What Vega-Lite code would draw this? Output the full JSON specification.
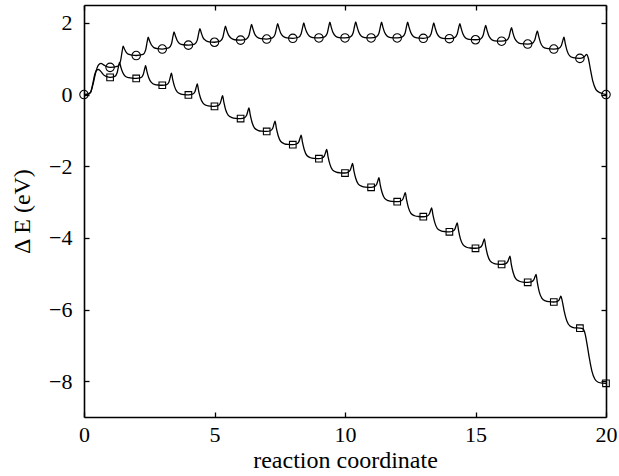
{
"$schema": "https://vega.github.io/schema/vega-lite/v6.json",
"width": 522, "height": 412,
"autosize": "none",
"padding": {"left": 84, "top": 5, "right": 13, "bottom": 59},
"background": "white",
"config": {
 "view": {"stroke": null},
 "axis": {"grid": false, "domainColor": "black", "domainWidth": 1.6, "tickColor": "black", "tickWidth": 1.3, "tickSize": -5,
  "labelFont": "Liberation Serif", "labelFontSize": 22, "labelColor": "black", "labelFlush": false, "labelOverlap": false,
  "titleFont": "Liberation Serif", "titleFontSize": 24, "titleFontWeight": "normal", "titleColor": "black"}
},
"datasets": {
 "curves": [
{"s":"a","x":0,"y":0},{"s":"a","x":0.15,"y":0.01},{"s":"a","x":0.25,"y":0.06},{"s":"a","x":0.35,"y":0.3},{"s":"a","x":0.45,"y":0.62},{"s":"a","x":0.55,"y":0.82},{"s":"a","x":0.65,"y":0.87},{"s":"a","x":0.75,"y":0.83},{"s":"a","x":0.87,"y":0.78},
{"s":"a","x":1,"y":0.76},{"s":"a","x":1.3,"y":0.795},{"s":"a","x":1.4,"y":0.94},{"s":"a","x":1.46,"y":1.2},{"s":"a","x":1.5,"y":1.35},{"s":"a","x":1.55,"y":1.27},{"s":"a","x":1.62,"y":1.18},{"s":"a","x":1.72,"y":1.12},{"s":"a","x":1.85,"y":1.1},
{"s":"a","x":2,"y":1.09},{"s":"a","x":2.26,"y":1.12},{"s":"a","x":2.36,"y":1.24},{"s":"a","x":2.42,"y":1.47},{"s":"a","x":2.46,"y":1.6},{"s":"a","x":2.51,"y":1.5},{"s":"a","x":2.58,"y":1.39},{"s":"a","x":2.68,"y":1.31},{"s":"a","x":2.81,"y":1.28},
{"s":"a","x":3,"y":1.27},{"s":"a","x":3.25,"y":1.3},{"s":"a","x":3.35,"y":1.41},{"s":"a","x":3.41,"y":1.63},{"s":"a","x":3.45,"y":1.75},{"s":"a","x":3.5,"y":1.64},{"s":"a","x":3.57,"y":1.51},{"s":"a","x":3.67,"y":1.42},{"s":"a","x":3.8,"y":1.39},
{"s":"a","x":4,"y":1.38},{"s":"a","x":4.24,"y":1.41},{"s":"a","x":4.34,"y":1.52},{"s":"a","x":4.4,"y":1.73},{"s":"a","x":4.44,"y":1.84},{"s":"a","x":4.49,"y":1.73},{"s":"a","x":4.56,"y":1.59},{"s":"a","x":4.66,"y":1.51},{"s":"a","x":4.79,"y":1.47},
{"s":"a","x":5,"y":1.46},{"s":"a","x":5.22,"y":1.49},{"s":"a","x":5.32,"y":1.6},{"s":"a","x":5.38,"y":1.8},{"s":"a","x":5.42,"y":1.91},{"s":"a","x":5.47,"y":1.79},{"s":"a","x":5.54,"y":1.66},{"s":"a","x":5.64,"y":1.57},{"s":"a","x":5.77,"y":1.53},
{"s":"a","x":6,"y":1.52},{"s":"a","x":6.22,"y":1.55},{"s":"a","x":6.32,"y":1.65},{"s":"a","x":6.38,"y":1.85},{"s":"a","x":6.42,"y":1.96},{"s":"a","x":6.47,"y":1.84},{"s":"a","x":6.54,"y":1.69},{"s":"a","x":6.64,"y":1.6},{"s":"a","x":6.77,"y":1.56},
{"s":"a","x":7,"y":1.55},{"s":"a","x":7.22,"y":1.58},{"s":"a","x":7.32,"y":1.68},{"s":"a","x":7.38,"y":1.87},{"s":"a","x":7.42,"y":1.98},{"s":"a","x":7.47,"y":1.86},{"s":"a","x":7.54,"y":1.71},{"s":"a","x":7.64,"y":1.62},{"s":"a","x":7.77,"y":1.58},
{"s":"a","x":8,"y":1.57},{"s":"a","x":8.22,"y":1.6},{"s":"a","x":8.32,"y":1.7},{"s":"a","x":8.38,"y":1.89},{"s":"a","x":8.42,"y":2.0},{"s":"a","x":8.47,"y":1.87},{"s":"a","x":8.54,"y":1.73},{"s":"a","x":8.64,"y":1.63},{"s":"a","x":8.77,"y":1.59},
{"s":"a","x":9,"y":1.58},{"s":"a","x":9.22,"y":1.61},{"s":"a","x":9.32,"y":1.71},{"s":"a","x":9.38,"y":1.91},{"s":"a","x":9.42,"y":2.02},{"s":"a","x":9.47,"y":1.89},{"s":"a","x":9.54,"y":1.73},{"s":"a","x":9.64,"y":1.63},{"s":"a","x":9.77,"y":1.59},
{"s":"a","x":10,"y":1.58},{"s":"a","x":10.21,"y":1.61},{"s":"a","x":10.31,"y":1.72},{"s":"a","x":10.37,"y":1.92},{"s":"a","x":10.41,"y":2.03},{"s":"a","x":10.46,"y":1.9},{"s":"a","x":10.53,"y":1.74},{"s":"a","x":10.63,"y":1.63},{"s":"a","x":10.76,"y":1.59},
{"s":"a","x":11,"y":1.58},{"s":"a","x":11.2,"y":1.61},{"s":"a","x":11.3,"y":1.71},{"s":"a","x":11.36,"y":1.91},{"s":"a","x":11.4,"y":2.02},{"s":"a","x":11.45,"y":1.89},{"s":"a","x":11.52,"y":1.73},{"s":"a","x":11.62,"y":1.63},{"s":"a","x":11.75,"y":1.59},
{"s":"a","x":12,"y":1.58},{"s":"a","x":12.2,"y":1.61},{"s":"a","x":12.3,"y":1.71},{"s":"a","x":12.36,"y":1.91},{"s":"a","x":12.4,"y":2.02},{"s":"a","x":12.45,"y":1.89},{"s":"a","x":12.52,"y":1.73},{"s":"a","x":12.62,"y":1.62},{"s":"a","x":12.75,"y":1.58},
{"s":"a","x":13,"y":1.57},{"s":"a","x":13.2,"y":1.6},{"s":"a","x":13.3,"y":1.7},{"s":"a","x":13.36,"y":1.89},{"s":"a","x":13.4,"y":2.0},{"s":"a","x":13.45,"y":1.87},{"s":"a","x":13.52,"y":1.71},{"s":"a","x":13.62,"y":1.61},{"s":"a","x":13.75,"y":1.57},
{"s":"a","x":14,"y":1.56},{"s":"a","x":14.2,"y":1.59},{"s":"a","x":14.3,"y":1.69},{"s":"a","x":14.36,"y":1.88},{"s":"a","x":14.4,"y":1.98},{"s":"a","x":14.45,"y":1.85},{"s":"a","x":14.52,"y":1.69},{"s":"a","x":14.62,"y":1.58},{"s":"a","x":14.75,"y":1.54},
{"s":"a","x":15,"y":1.53},{"s":"a","x":15.19,"y":1.55},{"s":"a","x":15.29,"y":1.65},{"s":"a","x":15.35,"y":1.83},{"s":"a","x":15.39,"y":1.93},{"s":"a","x":15.44,"y":1.8},{"s":"a","x":15.51,"y":1.64},{"s":"a","x":15.61,"y":1.54},{"s":"a","x":15.74,"y":1.5},
{"s":"a","x":16,"y":1.49},{"s":"a","x":16.18,"y":1.51},{"s":"a","x":16.28,"y":1.6},{"s":"a","x":16.34,"y":1.78},{"s":"a","x":16.38,"y":1.87},{"s":"a","x":16.43,"y":1.73},{"s":"a","x":16.5,"y":1.57},{"s":"a","x":16.6,"y":1.47},{"s":"a","x":16.73,"y":1.42},
{"s":"a","x":17,"y":1.41},{"s":"a","x":17.17,"y":1.43},{"s":"a","x":17.27,"y":1.52},{"s":"a","x":17.33,"y":1.69},{"s":"a","x":17.37,"y":1.78},{"s":"a","x":17.42,"y":1.63},{"s":"a","x":17.49,"y":1.45},{"s":"a","x":17.59,"y":1.33},{"s":"a","x":17.72,"y":1.29},
{"s":"a","x":18,"y":1.27},{"s":"a","x":18.19,"y":1.29},{"s":"a","x":18.29,"y":1.37},{"s":"a","x":18.35,"y":1.52},{"s":"a","x":18.39,"y":1.6},{"s":"a","x":18.44,"y":1.42},{"s":"a","x":18.51,"y":1.22},{"s":"a","x":18.61,"y":1.08},{"s":"a","x":18.74,"y":1.03},
{"s":"a","x":19,"y":1.01},{"s":"a","x":19.12,"y":1.03},{"s":"a","x":19.2,"y":1.08},{"s":"a","x":19.26,"y":1.12},{"s":"a","x":19.32,"y":1.02},{"s":"a","x":19.4,"y":0.72},{"s":"a","x":19.5,"y":0.36},{"s":"a","x":19.6,"y":0.16},{"s":"a","x":19.72,"y":0.07},{"s":"a","x":19.85,"y":0.03},{"s":"a","x":20,"y":0},
{"s":"b","x":0,"y":0},{"s":"b","x":0.15,"y":0.01},{"s":"b","x":0.25,"y":0.06},{"s":"b","x":0.33,"y":0.28},{"s":"b","x":0.42,"y":0.58},{"s":"b","x":0.5,"y":0.69},{"s":"b","x":0.56,"y":0.7},{"s":"b","x":0.65,"y":0.64},{"s":"b","x":0.75,"y":0.55},{"s":"b","x":0.87,"y":0.5},
{"s":"b","x":1,"y":0.48},{"s":"b","x":1.18,"y":0.51},{"s":"b","x":1.27,"y":0.61},{"s":"b","x":1.325,"y":0.8},{"s":"b","x":1.36,"y":0.9},{"s":"b","x":1.41,"y":0.77},{"s":"b","x":1.48,"y":0.62},{"s":"b","x":1.58,"y":0.51},{"s":"b","x":1.72,"y":0.47},{"s":"b","x":1.86,"y":0.455},
{"s":"b","x":2,"y":0.45},{"s":"b","x":2.18,"y":0.47},{"s":"b","x":2.27,"y":0.56},{"s":"b","x":2.325,"y":0.72},{"s":"b","x":2.36,"y":0.81},{"s":"b","x":2.41,"y":0.645},{"s":"b","x":2.48,"y":0.47},{"s":"b","x":2.58,"y":0.34},{"s":"b","x":2.72,"y":0.28},{"s":"b","x":2.86,"y":0.265},
{"s":"b","x":3,"y":0.26},{"s":"b","x":3.17,"y":0.28},{"s":"b","x":3.26,"y":0.36},{"s":"b","x":3.315,"y":0.515},{"s":"b","x":3.35,"y":0.6},{"s":"b","x":3.4,"y":0.417},{"s":"b","x":3.47,"y":0.222},{"s":"b","x":3.57,"y":0.075},{"s":"b","x":3.71,"y":0.014},{"s":"b","x":3.85,"y":-0.004},
{"s":"b","x":4,"y":-0.01},{"s":"b","x":4.16,"y":0.01},{"s":"b","x":4.25,"y":0.08},{"s":"b","x":4.305,"y":0.22},{"s":"b","x":4.34,"y":0.3},{"s":"b","x":4.39,"y":0.11},{"s":"b","x":4.46,"y":-0.09},{"s":"b","x":4.56,"y":-0.24},{"s":"b","x":4.7,"y":-0.305},{"s":"b","x":4.84,"y":-0.324},
{"s":"b","x":5,"y":-0.33},{"s":"b","x":5.13,"y":-0.31},{"s":"b","x":5.22,"y":-0.24},{"s":"b","x":5.275,"y":-0.105},{"s":"b","x":5.31,"y":-0.03},{"s":"b","x":5.36,"y":-0.22},{"s":"b","x":5.43,"y":-0.43},{"s":"b","x":5.53,"y":-0.58},{"s":"b","x":5.67,"y":-0.644},{"s":"b","x":5.81,"y":-0.664},
{"s":"b","x":6,"y":-0.67},{"s":"b","x":6.14,"y":-0.65},{"s":"b","x":6.23,"y":-0.58},{"s":"b","x":6.285,"y":-0.445},{"s":"b","x":6.32,"y":-0.37},{"s":"b","x":6.37,"y":-0.568},{"s":"b","x":6.44,"y":-0.78},{"s":"b","x":6.54,"y":-0.94},{"s":"b","x":6.68,"y":-1.004},{"s":"b","x":6.82,"y":-1.023},
{"s":"b","x":7,"y":-1.03},{"s":"b","x":7.14,"y":-1.01},{"s":"b","x":7.23,"y":-0.94},{"s":"b","x":7.285,"y":-0.81},{"s":"b","x":7.32,"y":-0.74},{"s":"b","x":7.37,"y":-0.94},{"s":"b","x":7.44,"y":-1.15},{"s":"b","x":7.54,"y":-1.31},{"s":"b","x":7.68,"y":-1.374},{"s":"b","x":7.82,"y":-1.393},
{"s":"b","x":8,"y":-1.4},{"s":"b","x":8.14,"y":-1.38},{"s":"b","x":8.23,"y":-1.32},{"s":"b","x":8.285,"y":-1.2},{"s":"b","x":8.32,"y":-1.13},{"s":"b","x":8.37,"y":-1.33},{"s":"b","x":8.44,"y":-1.54},{"s":"b","x":8.54,"y":-1.7},{"s":"b","x":8.68,"y":-1.764},{"s":"b","x":8.82,"y":-1.783},
{"s":"b","x":9,"y":-1.79},{"s":"b","x":9.12,"y":-1.77},{"s":"b","x":9.21,"y":-1.71},{"s":"b","x":9.265,"y":-1.595},{"s":"b","x":9.3,"y":-1.53},{"s":"b","x":9.35,"y":-1.73},{"s":"b","x":9.42,"y":-1.94},{"s":"b","x":9.52,"y":-2.1},{"s":"b","x":9.66,"y":-2.164},{"s":"b","x":9.8,"y":-2.183},
{"s":"b","x":10,"y":-2.19},{"s":"b","x":10.11,"y":-2.17},{"s":"b","x":10.2,"y":-2.11},{"s":"b","x":10.255,"y":-1.99},{"s":"b","x":10.29,"y":-1.92},{"s":"b","x":10.34,"y":-2.12},{"s":"b","x":10.41,"y":-2.335},{"s":"b","x":10.51,"y":-2.5},{"s":"b","x":10.65,"y":-2.563},{"s":"b","x":10.79,"y":-2.583},
{"s":"b","x":11,"y":-2.59},{"s":"b","x":11.12,"y":-2.57},{"s":"b","x":11.21,"y":-2.51},{"s":"b","x":11.265,"y":-2.39},{"s":"b","x":11.3,"y":-2.32},{"s":"b","x":11.35,"y":-2.52},{"s":"b","x":11.42,"y":-2.735},{"s":"b","x":11.52,"y":-2.9},{"s":"b","x":11.66,"y":-2.963},{"s":"b","x":11.8,"y":-2.983},
{"s":"b","x":12,"y":-2.99},{"s":"b","x":12.13,"y":-2.975},{"s":"b","x":12.22,"y":-2.915},{"s":"b","x":12.275,"y":-2.8},{"s":"b","x":12.31,"y":-2.74},{"s":"b","x":12.36,"y":-2.94},{"s":"b","x":12.43,"y":-3.155},{"s":"b","x":12.53,"y":-3.32},{"s":"b","x":12.67,"y":-3.383},{"s":"b","x":12.81,"y":-3.403},
{"s":"b","x":13,"y":-3.41},{"s":"b","x":13.14,"y":-3.395},{"s":"b","x":13.23,"y":-3.335},{"s":"b","x":13.285,"y":-3.22},{"s":"b","x":13.32,"y":-3.16},{"s":"b","x":13.37,"y":-3.36},{"s":"b","x":13.44,"y":-3.575},{"s":"b","x":13.54,"y":-3.74},{"s":"b","x":13.68,"y":-3.803},{"s":"b","x":13.82,"y":-3.823},
{"s":"b","x":14,"y":-3.83},{"s":"b","x":14.12,"y":-3.815},{"s":"b","x":14.21,"y":-3.755},{"s":"b","x":14.265,"y":-3.64},{"s":"b","x":14.3,"y":-3.58},{"s":"b","x":14.35,"y":-3.79},{"s":"b","x":14.42,"y":-4.02},{"s":"b","x":14.52,"y":-4.19},{"s":"b","x":14.66,"y":-4.262},{"s":"b","x":14.8,"y":-4.283},
{"s":"b","x":15,"y":-4.29},{"s":"b","x":15.16,"y":-4.275},{"s":"b","x":15.25,"y":-4.21},{"s":"b","x":15.305,"y":-4.095},{"s":"b","x":15.34,"y":-4.03},{"s":"b","x":15.39,"y":-4.24},{"s":"b","x":15.46,"y":-4.47},{"s":"b","x":15.56,"y":-4.64},{"s":"b","x":15.7,"y":-4.712},{"s":"b","x":15.84,"y":-4.733},
{"s":"b","x":16,"y":-4.74},{"s":"b","x":16.14,"y":-4.726},{"s":"b","x":16.23,"y":-4.67},{"s":"b","x":16.285,"y":-4.57},{"s":"b","x":16.32,"y":-4.51},{"s":"b","x":16.37,"y":-4.73},{"s":"b","x":16.44,"y":-4.96},{"s":"b","x":16.54,"y":-5.14},{"s":"b","x":16.68,"y":-5.21},{"s":"b","x":16.82,"y":-5.233},
{"s":"b","x":17,"y":-5.24},{"s":"b","x":17.14,"y":-5.227},{"s":"b","x":17.23,"y":-5.174},{"s":"b","x":17.285,"y":-5.075},{"s":"b","x":17.32,"y":-5.02},{"s":"b","x":17.37,"y":-5.25},{"s":"b","x":17.44,"y":-5.5},{"s":"b","x":17.54,"y":-5.68},{"s":"b","x":17.68,"y":-5.76},{"s":"b","x":17.82,"y":-5.782},
{"s":"b","x":18,"y":-5.79},{"s":"b","x":18.12,"y":-5.78},{"s":"b","x":18.2,"y":-5.74},{"s":"b","x":18.24,"y":-5.67},{"s":"b","x":18.27,"y":-5.63},{"s":"b","x":18.32,"y":-5.75},{"s":"b","x":18.4,"y":-6.05},{"s":"b","x":18.5,"y":-6.32},{"s":"b","x":18.62,"y":-6.46},{"s":"b","x":18.78,"y":-6.51},
{"s":"b","x":19,"y":-6.52},{"s":"b","x":19.12,"y":-6.54},{"s":"b","x":19.2,"y":-6.68},{"s":"b","x":19.27,"y":-6.95},{"s":"b","x":19.36,"y":-7.35},{"s":"b","x":19.46,"y":-7.72},{"s":"b","x":19.57,"y":-7.94},{"s":"b","x":19.7,"y":-8.03},{"s":"b","x":19.85,"y":-8.055},{"s":"b","x":20,"y":-8.06}
 ],
 "marks": [
{"s":"a","x":0,"y":0},{"s":"a","x":1,"y":0.76},{"s":"a","x":2,"y":1.09},{"s":"a","x":3,"y":1.27},{"s":"a","x":4,"y":1.38},{"s":"a","x":5,"y":1.46},{"s":"a","x":6,"y":1.52},{"s":"a","x":7,"y":1.55},{"s":"a","x":8,"y":1.57},{"s":"a","x":9,"y":1.58},{"s":"a","x":10,"y":1.58},{"s":"a","x":11,"y":1.58},{"s":"a","x":12,"y":1.58},{"s":"a","x":13,"y":1.57},{"s":"a","x":14,"y":1.56},{"s":"a","x":15,"y":1.53},{"s":"a","x":16,"y":1.49},{"s":"a","x":17,"y":1.41},{"s":"a","x":18,"y":1.27},{"s":"a","x":19,"y":1.01},{"s":"a","x":20,"y":0},
{"s":"b","x":1,"y":0.48},{"s":"b","x":2,"y":0.45},{"s":"b","x":3,"y":0.26},{"s":"b","x":4,"y":-0.01},{"s":"b","x":5,"y":-0.33},{"s":"b","x":6,"y":-0.67},{"s":"b","x":7,"y":-1.03},{"s":"b","x":8,"y":-1.4},{"s":"b","x":9,"y":-1.79},{"s":"b","x":10,"y":-2.19},{"s":"b","x":11,"y":-2.59},{"s":"b","x":12,"y":-2.99},{"s":"b","x":13,"y":-3.41},{"s":"b","x":14,"y":-3.83},{"s":"b","x":15,"y":-4.29},{"s":"b","x":16,"y":-4.74},{"s":"b","x":17,"y":-5.24},{"s":"b","x":18,"y":-5.79},{"s":"b","x":19,"y":-6.52},{"s":"b","x":20,"y":-8.06}
 ]
},
"layer": [
 {
  "data": {"name": "curves"},
  "mark": {"type": "line", "interpolate": "monotone", "color": "black", "strokeWidth": 1.3},
  "encoding": {
   "x": {"field": "x", "type": "quantitative", "scale": {"domain": [0, 20], "nice": false, "zero": false},
         "axis": {"orient": "bottom", "values": [0, 5, 10, 15, 20], "title": "reaction coordinate", "labelPadding": 12, "titlePadding": 3}},
   "y": {"field": "y", "type": "quantitative", "scale": {"domain": [-9, 2.5], "nice": false, "zero": false},
         "axis": {"orient": "left", "values": [-8, -6, -4, -2, 0, 2], "title": "Δ E (eV)", "labelPadding": 17, "titlePadding": 14}},
   "detail": {"field": "s"}
  }
 },
 {
  "data": {"name": "marks"},
  "mark": {"type": "point", "filled": false, "color": "black", "strokeWidth": 1.1, "opacity": 1},
  "encoding": {
   "x": {"field": "x", "type": "quantitative", "scale": {"domain": [0, 20], "nice": false, "zero": false},
         "axis": {"orient": "top", "values": [0, 5, 10, 15, 20], "labels": false, "title": null}},
   "y": {"field": "y", "type": "quantitative", "scale": {"domain": [-9, 2.5], "nice": false, "zero": false},
         "axis": {"orient": "right", "values": [-8, -6, -4, -2, 0, 2], "labels": false, "title": null}},
   "shape": {"field": "s", "type": "nominal", "scale": {"domain": ["a", "b"], "range": ["circle", "square"]}, "legend": null},
   "size": {"field": "s", "type": "nominal", "scale": {"domain": ["a", "b"], "range": [72, 44]}, "legend": null}
  }
 }
],
"resolve": {"scale": {"x": "independent", "y": "independent"}, "axis": {"x": "independent", "y": "independent"}}
}
